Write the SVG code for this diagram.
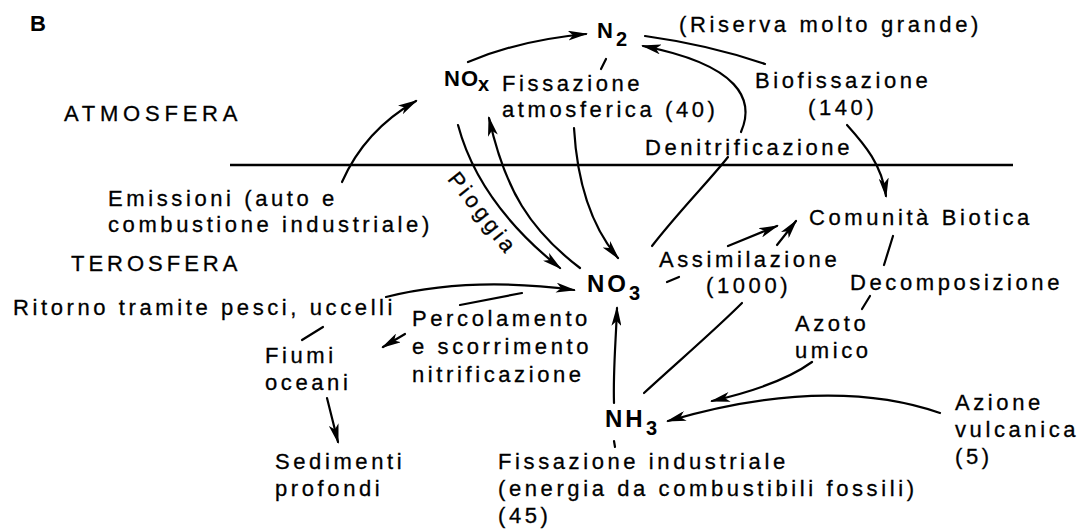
<svg xmlns="http://www.w3.org/2000/svg" width="1079" height="531" viewBox="0 0 1079 531">
<style>
text{font-family:"Liberation Sans",Arial,sans-serif;font-size:22px;fill:#000;stroke:#000;stroke-width:0.3;letter-spacing:3.6px}
.b{font-weight:bold;letter-spacing:1px;stroke-width:0}
.big{font-size:24px;letter-spacing:3px}
.sub{font-size:20px;font-weight:bold;letter-spacing:0;stroke-width:0}
.c{fill:none;stroke:#000;stroke-width:2.2;stroke-linecap:round}
.a{marker-end:url(#ah)}
</style>
<defs>
<marker id="ah" viewBox="0 0 20 10" refX="18" refY="5" markerWidth="20" markerHeight="10" markerUnits="userSpaceOnUse" orient="auto">
<path d="M0,0 L20,5 L0,10 L5,5 z" fill="#000"/>
</marker>
</defs>
<rect width="1079" height="531" fill="#fff"/>
<g id="label-B"><text x="30" y="31" class="b" style="font-size:22px">B</text></g>
<g id="divider"><path d="M230,165 L1013,165" stroke="#000" stroke-width="2.5"/></g>
<g id="atmosfera"><text x="64" y="121" textLength="177" lengthAdjust="spacing">ATMOSFERA</text></g>
<g id="terosfera"><text x="71" y="271" textLength="170" lengthAdjust="spacing">TEROSFERA</text></g>
<g id="n2"><text x="597" y="38" class="b">N</text><text x="616" y="46" class="sub">2</text></g>
<g id="riserva"><text x="679" y="32">(Riserva molto grande)</text></g>
<g id="nox"><text x="444" y="86" class="b">NO</text><text x="478" y="91" class="sub">x</text></g>
<g id="fissazione-atm"><text x="502" y="91">Fissazione</text><text x="502" y="117">atmosferica (40)</text></g>
<g id="biofissazione"><text x="755" y="88">Biofissazione</text><text x="808" y="115">(140)</text></g>
<g id="denitrificazione"><text x="645" y="155">Denitrificazione</text></g>
<g id="emissioni"><text x="108" y="206">Emissioni (auto e</text><text x="108" y="232">combustione industriale)</text></g>
<g id="pioggia"><text transform="translate(477,218) rotate(52)" text-anchor="middle">Pioggia</text></g>
<g id="comunita"><text x="809" y="225">Comunità Biotica</text></g>
<g id="no3"><text x="587" y="292" class="b big">NO</text><text x="629" y="300" class="sub">3</text></g>
<g id="assimilazione"><text x="659" y="267">Assimilazione</text><text x="706" y="293">(1000)</text></g>
<g id="decomposizione"><text x="850" y="290">Decomposizione</text></g>
<g id="ritorno"><text x="13" y="315">Ritorno tramite pesci, uccelli</text></g>
<g id="percolamento"><text x="412" y="326">Percolamento</text><text x="412" y="354">e scorrimento</text><text x="412" y="382">nitrificazione</text></g>
<g id="azoto-umico"><text x="795" y="331">Azoto</text><text x="795" y="358">umico</text></g>
<g id="fiumi"><text x="265" y="363">Fiumi</text><text x="265" y="390">oceani</text></g>
<g id="nh3"><text x="605" y="427" class="b big">NH</text><text x="646" y="435" class="sub">3</text></g>
<g id="azione-vulcanica"><text x="955" y="410">Azione</text><text x="955" y="437">vulcanica</text><text x="955" y="464">(5)</text></g>
<g id="sedimenti"><text x="275" y="469">Sedimenti</text><text x="275" y="496">profondi</text></g>
<g id="fissazione-ind"><text x="498" y="469">Fissazione industriale</text><text x="498" y="496">(energia da combustibili fossili)</text><text x="498" y="523">(45)</text></g>
<g id="connectors">
<path class="c a" d="M342,182 Q365,130 416,101"/>
<path class="c a" d="M468,62 Q520,40 586,34"/>
<path class="c a" d="M458,125 C470,170 500,220 560,268"/>
<path class="c a" d="M580,268 C530,230 505,190 489,118"/>
<path class="c a" d="M574,128 C577,180 590,225 618,258"/>
<path class="c" d="M652,246 C680,210 710,180 728,157"/>
<path class="c a" d="M741,132 C755,100 740,65 643,46"/>
<path class="c" d="M645,36 Q710,45 765,64"/>
<path class="c a" d="M847,125 C865,145 882,165 886,196"/>
<path class="c" d="M893,236 L884,265"/>
<path class="c" d="M870,296 L862,309"/>
<path class="c a" d="M812,362 C790,378 760,390 712,401"/>
<path class="c a" d="M940,413 C880,392 790,385 668,421"/>
<path class="c a" d="M614,403 C613,370 616,340 617,308"/>
<path class="c" d="M644,393 C680,360 715,330 742,303"/>
<path class="c a" d="M728,246 L777,226"/>
<path class="c a" d="M777,245 L796,221"/>
<path class="c" d="M667,282 L679,277"/>
<path class="c a" d="M386,297 Q470,276 574,290"/>
<path class="c" d="M522,293 L460,305"/>
<path class="c a" d="M405,334 L383,347"/>
<path class="c" d="M302,340 L323,327"/>
<path class="c a" d="M327,398 L338,442"/>
<path class="c" d="M614,441 L615,447"/>
<path class="c" d="M606,59 L601,69"/>
</g>
</svg>
